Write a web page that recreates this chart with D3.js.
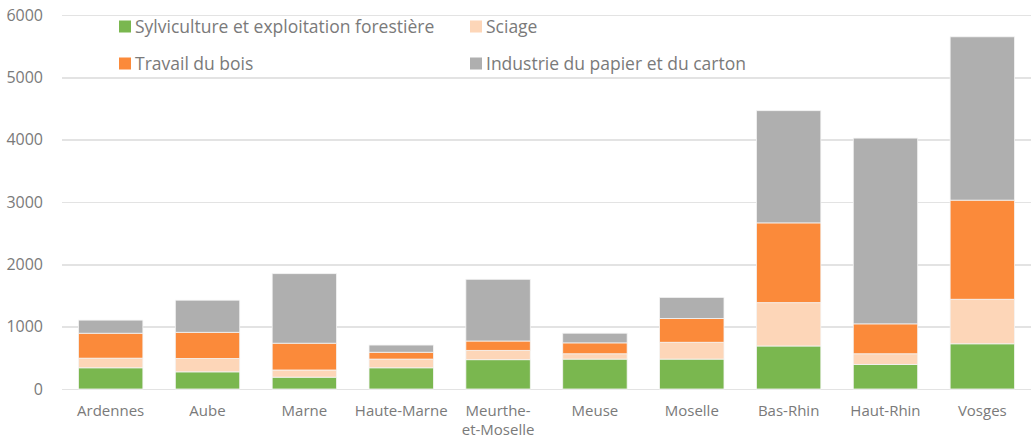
<!DOCTYPE html>
<html>
	<head>
		<meta charset="utf-8">
		<title>Emplois filière bois</title>
		<script src="https://d3js.org/d3.v7.min.js"></script>
		<style type="text/css">
			body { margin: 0; background: #fff; }
			text { font-family: "Open Sans", sans-serif; fill: #7a7a7a; }
			.grid line { stroke: #e3e3e3; stroke-width: 1.5; shape-rendering: crispEdges; }
			.grid path { display: none; }
		</style>
	</head>
	<body>
		<script type="text/javascript">

			// Données
			var departements = ['Ardennes', 'Aube', 'Marne', 'Haute-Marne', 'Meurthe-et-Moselle',
				'Meuse', 'Moselle', 'Bas-Rhin', 'Haut-Rhin', 'Vosges'];
			var sylviculture = [340, 275, 190, 340, 470, 480, 480, 690, 395, 725];
			var sciage       = [155, 215, 115, 140, 150,  85, 270, 695, 170, 715];
			var travailBois  = [400, 420, 430, 110, 150, 175, 380, 1280, 480, 1590];
			var papier       = [210, 515, 1115, 115, 990, 155, 340, 1800, 2980, 2620];
			var seriesNames = ['Sylviculture et exploitation forestière', 'Sciage',
				'Travail du bois', 'Industrie du papier et du carton'];
			var yTicks = [0, 1000, 2000, 3000, 4000, 5000, 6000];

			var colors = ['#7ab74f', '#fdd6b8', '#fb8a3a', '#afafaf'];
			var keys = ['s0', 's1', 's2', 's3'];

			var svgWidth = 1031, svgHeight = 440;
			var mLeft = 62, mRight = 1031, mTop = 15, mBottom = 389;

			var rows = departements.map(function(d, i) {
				return { dep: d, s0: sylviculture[i], s1: sciage[i], s2: travailBois[i], s3: papier[i] };
			});
			var stacked = d3.stack().keys(keys)(rows);

			var xScale = d3.scaleBand()
				.domain(departements)
				.range([mLeft, mRight])
				.paddingInner(0.335)
				.paddingOuter(0.17);

			var yScale = d3.scaleLinear()
				.domain([0, 6000])
				.range([mBottom, mTop]);

			var svg = d3.select('body')
				.append('svg')
				.attr('width', svgWidth)
				.attr('height', svgHeight);

			// Grille horizontale
			svg.append('g')
				.attr('class', 'grid')
				.attr('transform', 'translate(' + mLeft + ',0)')
				.call(d3.axisLeft(yScale).tickValues(yTicks).tickSize(-(mRight - mLeft)).tickFormat(''));

			// Étiquettes de l'axe Y
			svg.append('g')
				.selectAll('text')
				.data(yTicks)
				.enter()
				.append('text')
				.attr('x', 43)
				.attr('y', function(d) { return yScale(d); })
				.attr('dy', '0.35em')
				.attr('text-anchor', 'end')
				.attr('font-size', '16px')
				.text(function(d) { return d; });

			// Barres empilées
			svg.selectAll('g.serie')
				.data(stacked)
				.enter()
				.append('g')
				.attr('class', 'serie')
				.attr('fill', function(d, i) { return colors[i]; })
				.selectAll('rect')
				.data(function(d) { return d; })
				.enter()
				.append('rect')
				.attr('x', function(d) { return xScale(d.data.dep); })
				.attr('y', function(d) { return yScale(d[1]); })
				.attr('width', xScale.bandwidth())
				.attr('height', function(d) { return yScale(d[0]) - yScale(d[1]); })
				.attr('stroke', '#f4f4f4')
				.attr('stroke-width', 0.8);

			// Étiquettes de l'axe X
			var xLabels = svg.append('g')
				.selectAll('text')
				.data(departements)
				.enter()
				.append('text')
				.attr('text-anchor', 'middle')
				.attr('font-size', '15px')
				.attr('x', function(d) { return xScale(d) + xScale.bandwidth() / 2; });

			xLabels.each(function(d) {
				var lines = d === 'Meurthe-et-Moselle' ? ['Meurthe-', 'et-Moselle'] : [d];
				var t = d3.select(this);
				lines.forEach(function(l, j) {
					t.append('tspan')
						.attr('x', xScale(d) + xScale.bandwidth() / 2)
						.attr('y', 416 + j * 19)
						.text(l);
				});
			});

			// Légende
			var legendPos = [[119, 27], [470, 27], [119, 64], [470, 64]];
			var legend = svg.append('g')
				.selectAll('g')
				.data(seriesNames)
				.enter()
				.append('g')
				.attr('transform', function(d, i) { return 'translate(' + legendPos[i][0] + ',' + legendPos[i][1] + ')'; });

			legend.append('rect')
				.attr('x', 0)
				.attr('y', -6.5)
				.attr('width', 12)
				.attr('height', 12)
				.attr('fill', function(d, i) { return colors[i]; });

			legend.append('text')
				.attr('x', 16)
				.attr('y', 0)
				.attr('dy', '0.35em')
				.attr('font-size', '17.5px')
				.text(function(d) { return d; });

		</script>
	</body>
</html>
